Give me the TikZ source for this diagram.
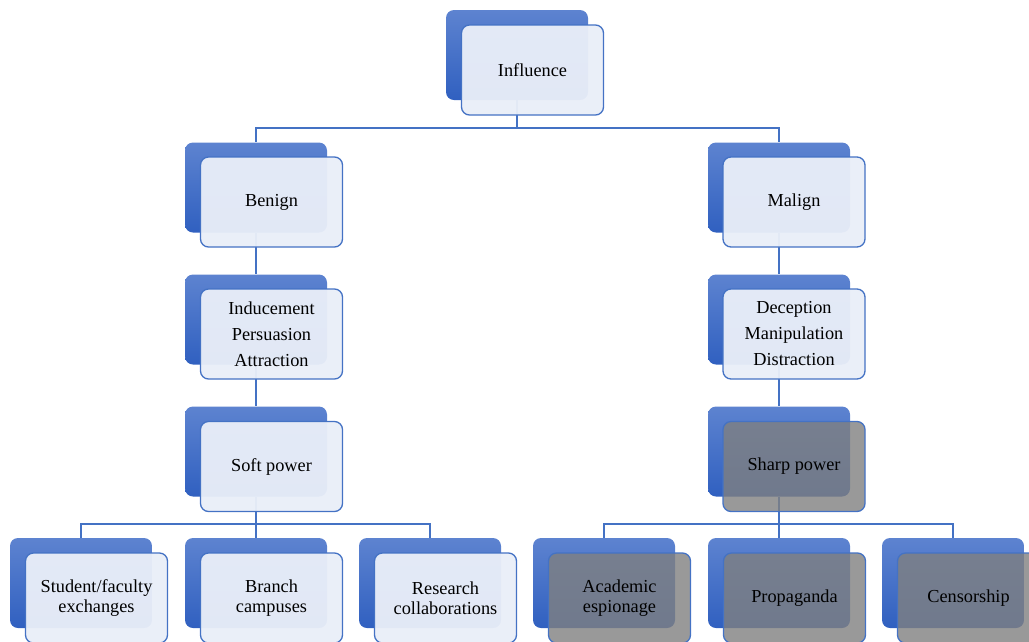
\documentclass[tikz,border=0pt]{standalone}
\usepackage{fontspec}
\setmainfont{Liberation Serif}
\definecolor{lineblue}{RGB}{68,114,196}
\definecolor{btop}{RGB}{93,131,208}
\definecolor{bbot}{RGB}{48,96,192}
\definecolor{frontfill}{RGB}{233,238,248}
\definecolor{sharpfill}{RGB}{128,128,128}
\tikzset{
  backbox/.style={rectangle, rounded corners=8pt, minimum width=142pt, minimum height=90pt, inner sep=0pt, top color=btop, bottom color=bbot, draw=none},
  frontbox/.style={rectangle, rounded corners=8pt, minimum width=142pt, minimum height=90pt, inner sep=0pt, draw=lineblue, line width=1.3pt, fill=frontfill, fill opacity=0.96, text opacity=1, align=center, font=\fontsize{18.3}{19.5}\selectfont},
  sharpbox/.style={frontbox, fill=sharpfill, fill opacity=0.8},
  threeline/.style={font=\fontsize{18.3}{26}\selectfont},
  conn/.style={draw=lineblue, line width=1.4pt}
}
\begin{document}
\begin{tikzpicture}[x=1pt,y=-1pt]
\useasboundingbox (0,0) rectangle (1029,641);
% coordinates of branching points
\coordinate (h1) at (517,128);
\coordinate (h2) at (256,524);
\coordinate (h3) at (779,524);
% back boxes
\node[backbox] (infB) at (517,55) {};
\node[backbox] (benB) at (256,187.5) {};
\node[backbox] (malB) at (779,187.5) {};
\node[backbox] (indB) at (256,319.5) {};
\node[backbox] (decB) at (779,319.5) {};
\node[backbox] (softB) at (256,451.5) {};
\node[backbox] (sharpB) at (779,451.5) {};
\node[backbox] (stuB) at (81,583) {};
\node[backbox] (braB) at (256,583) {};
\node[backbox] (resB) at (430,583) {};
\node[backbox] (acaB) at (604,583) {};
\node[backbox] (proB) at (779,583) {};
\node[backbox] (cenB) at (953,583) {};
% connectors
\draw[conn] (infB.south) -- (h1);
\draw[conn] (h1) -| (benB.north);
\draw[conn] (h1) -| (malB.north);
\draw[conn] (benB.south) -- (indB.north);
\draw[conn] (malB.south) -- (decB.north);
\draw[conn] (indB.south) -- (softB.north);
\draw[conn] (decB.south) -- (sharpB.north);
\draw[conn] (softB.south) -- (h2);
\draw[conn] (h2) -| (stuB.north);
\draw[conn] (h2) -| (braB.north);
\draw[conn] (h2) -| (resB.north);
\draw[conn] (sharpB.south) -- (h3);
\draw[conn] (h3) -| (acaB.north);
\draw[conn] (h3) -| (proB.north);
\draw[conn] (h3) -| (cenB.north);
% front boxes
\node[frontbox] (infF) at (532.5,70) {Influence};
\node[frontbox] (benF) at (271.5,202) {Benign};
\node[frontbox] (malF) at (794,202) {Malign};
\node[frontbox, threeline] (indF) at (271.5,334) {Inducement\\Persuasion\\Attraction};
\node[frontbox, threeline] (decF) at (794,334) {Deception\\Manipulation\\Distraction};
\node[frontbox] (softF) at (271.5,466.5) {Soft power};
\node[sharpbox] (sharpF) at (794,466.5) {Sharp power};
\node[frontbox] (stuF) at (96.5,598) {Student/faculty\\exchanges};
\node[frontbox] (braF) at (271.5,598) {Branch\\campuses};
\node[frontbox] (resF) at (445.5,598) {Research\\collaborations};
\node[sharpbox] (acaF) at (619.5,598) {Academic\\espionage};
\node[sharpbox] (proF) at (794.5,598) {Propaganda};
\node[sharpbox] (cenF) at (968.5,598) {Censorship};
\end{tikzpicture}
\end{document}
